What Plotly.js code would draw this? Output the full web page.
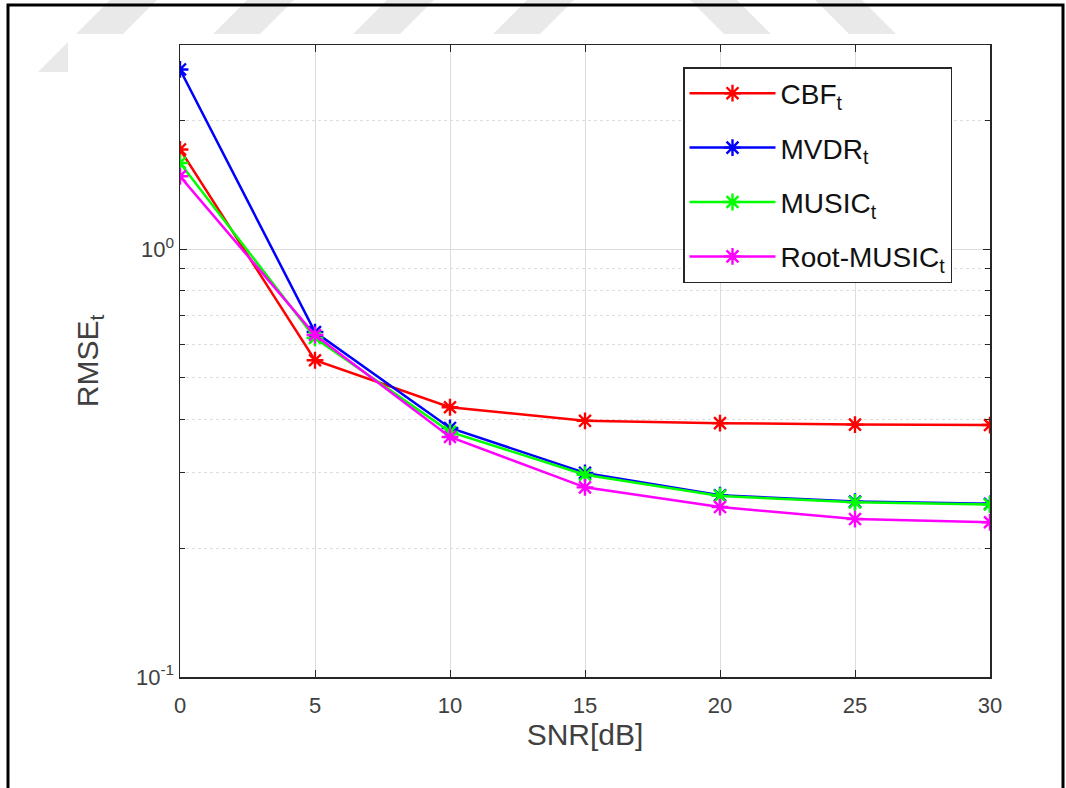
<!DOCTYPE html>
<html>
<head>
<meta charset="utf-8">
<script src="https://cdn.plot.ly/plotly-3.0.1.min.js"></script>
<style>html,body{margin:0;padding:0;background:#fff;}#chart{width:1066px;height:788px;}</style>
</head>
<body>
<div id="chart"></div>
<script>
// ---- data ----
var snr = [0, 5, 10, 15, 20, 25, 30];
var cbf = [1.71, 0.55, 0.427, 0.397, 0.392, 0.389, 0.388];
var mvdr = [2.63, 0.64, 0.382, 0.300, 0.266, 0.257, 0.254];
var music = [1.59, 0.62, 0.374, 0.297, 0.265, 0.256, 0.253];
var rootMusic = [1.48, 0.63, 0.364, 0.2775, 0.2496, 0.234, 0.230];

var seriesNames = ['CBF<sub>t</sub>', 'MVDR<sub>t</sub>', 'MUSIC<sub>t</sub>', 'Root-MUSIC<sub>t</sub>'];
var seriesColors = ['#ff0000', '#0000ff', '#00ff00', '#ff00ff'];
var xTickVals = [0, 5, 10, 15, 20, 25, 30];
var yTickVals = [0.1, 1];
var yTickText = ['10<sup>-1</sup>', '10<sup>0</sup>'];
var yMinorVals = [0.2, 0.3, 0.4, 0.5, 0.6, 0.7, 0.8, 0.9, 2, 3];

var seriesValues = [cbf, mvdr, music, rootMusic];
var traces = seriesValues.map(function (vals, i) {
  return {
    x: snr, y: vals, name: seriesNames[i], type: 'scatter', mode: 'lines+markers',
    legendgroup: 'g' + i,
    line: {color: seriesColors[i], width: 2.5},
    marker: {symbol: 'asterisk-open', size: 14, color: seriesColors[i], line: {color: seriesColors[i], width: 2.4}}
  };
});

// plot area in pixels: x 180..990, y 45..677
var L = 180, R = 990, T = 45, B = 677;
function px(x) { return (x - L) / (R - L); }
function py(y) { return (B - y) / (B - T); }

var shapes = [];
var wm = '#e9e9e9';
// watermark stripes ("/" and "\")
var slashTops = [110, 247, 387, 527];
slashTops.forEach(function (x0) {
  shapes.push({type: 'path', xref: 'paper', yref: 'paper', layer: 'below',
    path: 'M' + px(x0) + ',' + py(0) + ' L' + px(x0 + 47) + ',' + py(0) + ' L' + px(x0 + 47 - 72) + ',' + py(72) + ' L' + px(x0 - 72) + ',' + py(72) + ' Z',
    fillcolor: wm, line: {width: 0}});
});
var backTops = [690, 815];
backTops.forEach(function (x0) {
  shapes.push({type: 'path', xref: 'paper', yref: 'paper', layer: 'below',
    path: 'M' + px(x0) + ',' + py(0) + ' L' + px(x0 + 47) + ',' + py(0) + ' L' + px(x0 + 47 + 72) + ',' + py(72) + ' L' + px(x0 + 72) + ',' + py(72) + ' Z',
    fillcolor: wm, line: {width: 0}});
});
// white figure area pasted over watermark
shapes.push({type: 'rect', xref: 'paper', yref: 'paper', layer: 'below',
  x0: px(68), x1: px(1062), y0: py(34), y1: py(790), fillcolor: '#ffffff', line: {width: 0}});
// outer black frame
shapes.push({type: 'rect', xref: 'paper', yref: 'paper', layer: 'above',
  x0: px(8), x1: px(1063), y0: py(5), y1: py(800), fillcolor: 'rgba(0,0,0,0)', line: {color: '#000000', width: 3}});

var axColor = '#262626';
var layout = {
  width: 1066, height: 788,
  margin: {l: L, r: 1066 - R, t: T, b: 788 - B},
  paper_bgcolor: '#ffffff', plot_bgcolor: '#ffffff',
  font: {family: 'Liberation Sans, Arial, sans-serif', color: axColor},
  showlegend: true,
  legend: {
    x: px(683), y: py(67), xanchor: 'left', yanchor: 'top',
    bgcolor: '#ffffff', bordercolor: axColor, borderwidth: 1.5,
    font: {size: 28, color: '#111111'}, itemwidth: 86, tracegroupgap: 15
  },
  xaxis: {
    range: [0, 30], tickvals: xTickVals, ticks: 'inside', ticklen: 7, tickcolor: axColor,
    showline: true, linecolor: axColor, linewidth: 1.5, mirror: 'ticks',
    showgrid: true, gridcolor: '#dcdcdc', gridwidth: 1, zeroline: false,
    tickfont: {size: 22, color: '#404040'}, ticklabelstandoff: 8,
    title: {text: 'SNR[dB]', font: {size: 30, color: '#404040'}, standoff: 3}
  },
  yaxis: {
    type: 'log', range: [-1, Math.log10(3)], tickvals: yTickVals, ticktext: yTickText,
    ticks: 'inside', ticklen: 7, tickcolor: axColor,
    showline: true, linecolor: axColor, linewidth: 1.5, mirror: 'ticks',
    showgrid: true, gridcolor: '#dcdcdc', gridwidth: 1, zeroline: false,
    tickfont: {size: 22, color: '#404040'},
    minor: {tickvals: yMinorVals, ticks: 'inside', ticklen: 5, tickcolor: axColor,
      showgrid: true, gridcolor: '#dedede', griddash: 'dot', gridwidth: 1},
    title: {text: 'RMSE<sub>t</sub>', font: {size: 30, color: '#404040'}, standoff: 28}
  },
  shapes: shapes
};

Plotly.newPlot('chart', traces, layout, {displayModeBar: false, staticPlot: true});
</script>
</body>
</html>
